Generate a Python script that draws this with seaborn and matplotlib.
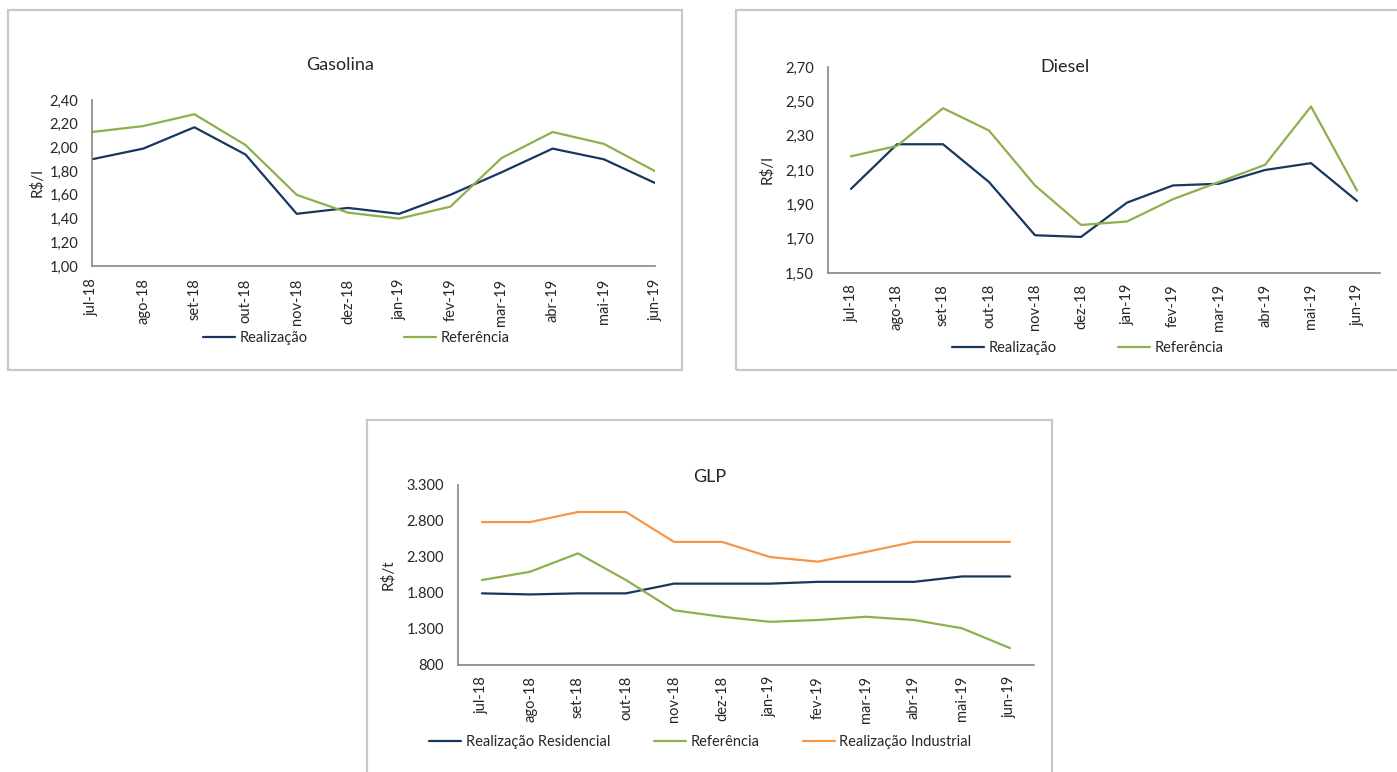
import pandas as pd
import seaborn as sns
import matplotlib.pyplot as plt
from matplotlib.patches import Rectangle
from matplotlib.ticker import FuncFormatter, FixedLocator

meses = ["jul-18", "ago-18", "set-18", "out-18", "nov-18", "dez-18",
         "jan-19", "fev-19", "mar-19", "abr-19", "mai-19", "jun-19"]

gas_realizacao = [1.90, 1.99, 2.17, 1.94, 1.44, 1.49, 1.44, 1.60, 1.79, 1.99, 1.90, 1.70]
gas_referencia = [2.13, 2.18, 2.28, 2.02, 1.60, 1.45, 1.40, 1.50, 1.91, 2.13, 2.03, 1.80]

die_realizacao = [1.99, 2.25, 2.25, 2.03, 1.72, 1.71, 1.91, 2.01, 2.02, 2.10, 2.14, 1.92]
die_referencia = [2.18, 2.24, 2.46, 2.33, 2.01, 1.78, 1.80, 1.93, 2.03, 2.13, 2.47, 1.98]

glp_residencial = [1795, 1780, 1795, 1795, 1930, 1930, 1930, 1955, 1955, 1955, 2030, 2030]
glp_referencia = [1980, 2095, 2350, 1980, 1560, 1470, 1400, 1425, 1470, 1425, 1310, 1035]
glp_industrial = [2785, 2785, 2925, 2925, 2510, 2510, 2300, 2235, 2370, 2510, 2510, 2510]

AZUL = "#17375E"
VERDE = "#8DB04E"
LARANJA = "#F79646"
CINZA = "#868686"

sns.set_style("white")
plt.rcParams['font.family'] = ['Lato', 'DejaVu Sans']


def monta_df(series):
    linhas = []
    for nome, valores in series.items():
        for i, v in enumerate(valores):
            linhas.append({"idx": i, "valor": v, "Serie": nome})
    return pd.DataFrame(linhas)


def estilo_eixo(ax, entre_ticks):
    for s in ["top", "right"]:
        ax.spines[s].set_visible(False)
    for s in ["left", "bottom"]:
        ax.spines[s].set_color(CINZA)
        ax.spines[s].set_linewidth(1.2)
    ax.set_xticks(range(12))
    ax.set_xticklabels(meses, rotation=90, fontsize=10.5)
    ax.tick_params(axis="y", labelsize=10.5, length=4, color=CINZA, width=1.2, direction="out", pad=6)
    ax.set_xlabel("")
    if entre_ticks:
        ax.set_xlim(-0.5, 11.5)
        ax.xaxis.set_minor_locator(FixedLocator([i - 0.5 for i in range(13)]))
        ax.tick_params(axis="x", which="major", length=0, pad=8)
        ax.tick_params(axis="x", which="minor", length=5, color=CINZA, width=1.2)
    else:
        ax.set_xlim(0, 11)
        ax.tick_params(axis="x", length=5, color=CINZA, width=1.2, pad=4)


fig = plt.figure(figsize=(13.97, 7.72), dpi=100)
W, H = 1397, 772


def caixa(x0, y0, x1, y1):
    fig.patches.append(Rectangle((x0 / W, 1 - y1 / H), (x1 - x0) / W, (y1 - y0) / H,
                                 transform=fig.transFigure, fill=False,
                                 edgecolor="#C8C8C8", linewidth=1.6))


def eixo(x0, y0, x1, y1):
    return fig.add_axes([x0 / W, 1 - y1 / H, (x1 - x0) / W, (y1 - y0) / H])


virgula = FuncFormatter(lambda v, p: f"{v:.2f}".replace(".", ","))
milhar = FuncFormatter(lambda v, p: f"{v:,.0f}".replace(",", "."))

# Gasolina
caixa(8, 10, 682, 370)
ax1 = eixo(92, 100, 655, 266)
df = monta_df({"Realização": gas_realizacao, "Referência": gas_referencia})
sns.lineplot(data=df, x="idx", y="valor", hue="Serie", palette=[AZUL, VERDE],
             linewidth=1.6, ax=ax1, legend=False)
ax1.set_ylim(1.0, 2.4)
ax1.set_yticks([1.0 + 0.2 * i for i in range(8)])
ax1.yaxis.set_major_formatter(virgula)
estilo_eixo(ax1, False)
ax1.set_ylabel("R$/l", fontsize=11, labelpad=4)
fig.text(340 / W, 1 - 65 / H, "Gasolina", ha="center", va="center", fontsize=13)
h = [plt.Line2D([], [], color=c, lw=1.6) for c in [AZUL, VERDE]]
fig.legend(h, ["Realização", "Referência"], loc="center left",
           bbox_to_anchor=(190 / W, 1 - 338 / H), ncol=2, frameon=False,
           fontsize=10.5, handlelength=2.2, handletextpad=0.3, columnspacing=6.6)

# Diesel
caixa(736, 10, 1410, 370)
ax2 = eixo(828, 67, 1380, 273)
df = monta_df({"Realização": die_realizacao, "Referência": die_referencia})
sns.lineplot(data=df, x="idx", y="valor", hue="Serie", palette=[AZUL, VERDE],
             linewidth=1.6, ax=ax2, legend=False)
ax2.set_ylim(1.5, 2.7)
ax2.set_yticks([1.5 + 0.2 * i for i in range(7)])
ax2.yaxis.set_major_formatter(virgula)
estilo_eixo(ax2, True)
ax2.set_ylabel("R$/l", fontsize=11, labelpad=8)
fig.text(1065 / W, 1 - 67 / H, "Diesel", ha="center", va="center", fontsize=13)
fig.legend(h, ["Realização", "Referência"], loc="center left",
           bbox_to_anchor=(939 / W, 1 - 348 / H), ncol=2, frameon=False,
           fontsize=10.5, handlelength=2.2, handletextpad=0.3, columnspacing=4.2)

# GLP
caixa(367, 420, 1052, 790)
ax3 = eixo(458, 485, 1034, 665)
df = monta_df({"Realização Residencial": glp_residencial,
               "Referência": glp_referencia,
               "Realização Industrial": glp_industrial})
sns.lineplot(data=df, x="idx", y="valor", hue="Serie", palette=[AZUL, VERDE, LARANJA],
             linewidth=1.6, ax=ax3, legend=False)
ax3.set_ylim(800, 3300)
ax3.set_yticks([800 + 500 * i for i in range(6)])
ax3.yaxis.set_major_formatter(milhar)
estilo_eixo(ax3, True)
ax3.set_ylabel("R$/t", fontsize=11, labelpad=8)
fig.text(710 / W, 1 - 477 / H, "GLP", ha="center", va="center", fontsize=13)
h3 = [plt.Line2D([], [], color=c, lw=1.6) for c in [AZUL, VERDE, LARANJA]]
fig.legend(h3, ["Realização Residencial", "Referência", "Realização Industrial"],
           loc="center left", bbox_to_anchor=(416 / W, 1 - 742 / H), ncol=3,
           frameon=False, fontsize=10.5, handlelength=2.2, handletextpad=0.3,
           columnspacing=3.0)

fig.savefig("out.png", dpi=100)
